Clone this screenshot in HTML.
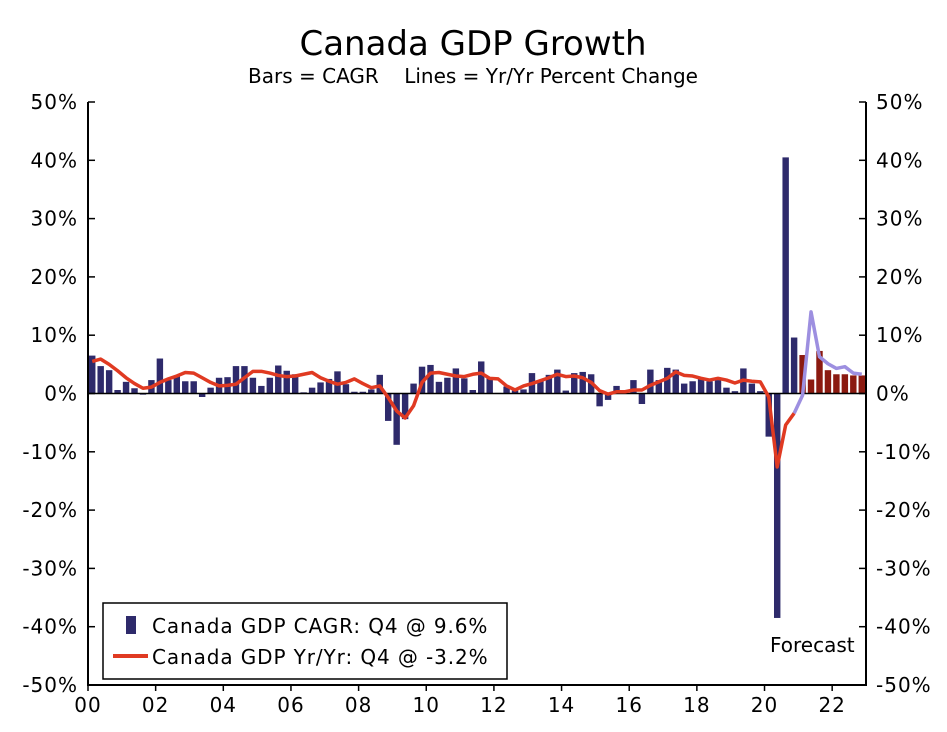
<!DOCTYPE html>
<html><head><meta charset="utf-8"><style>
body{margin:0;background:#fff;}
svg text{font-family:"DejaVu Sans","Liberation Sans",sans-serif;fill:#000;}
</style></head><body>
<svg width="947" height="727" xmlns="http://www.w3.org/2000/svg">
<rect x="0" y="0" width="947" height="727" fill="#fff"/>
<text x="473" y="55" text-anchor="middle" font-size="34">Canada GDP Growth</text>
<text x="473" y="83" text-anchor="middle" font-size="20" style="white-space:pre">Bars = CAGR    Lines = Yr/Yr Percent Change</text>
<g id="plot"></g>
<g id="legend">
<rect x="103" y="603" width="404" height="76" fill="#fff" stroke="#000" stroke-width="1.5"/>
<rect x="126" y="616" width="10" height="18" fill="#2e2a6b"/>
<text x="152" y="633" font-size="20" letter-spacing="0.9">Canada GDP CAGR: Q4 @ 9.6%</text>
<line x1="113" y1="656" x2="148" y2="656" stroke="#e03a22" stroke-width="4"/>
<text x="152" y="664" font-size="20" letter-spacing="0.9">Canada GDP Yr/Yr: Q4 @ -3.2%</text>
</g>
<text x="770" y="652" font-size="20">Forecast</text>
</svg>
<script>
const cagr=[6.5,4.7,4.0,0.6,2.0,0.9,-0.2,2.3,6.0,2.3,3.0,2.1,2.1,-0.6,1.0,2.7,2.8,4.7,4.7,2.7,1.3,2.7,4.8,3.9,3.3,0.2,1.0,1.9,2.5,3.8,1.6,0.3,0.3,0.7,3.2,-4.7,-8.8,-4.4,1.7,4.6,4.9,2.0,2.7,4.3,2.6,0.6,5.5,2.7,0.1,1.2,0.5,0.7,3.5,2.2,3.2,4.1,0.5,3.5,3.7,3.3,-2.2,-1.1,1.3,0.2,2.3,-1.8,4.1,2.3,4.4,4.1,1.7,2.1,2.5,2.1,2.3,1.0,0.4,4.3,1.7,0.4,-7.4,-38.5,40.5,9.6,6.6,2.4,7.3,4.0,3.3,3.3,3.1,3.1];
const yoy=[5.5,5.9,5.0,3.9,2.7,1.7,0.9,1.1,1.9,2.5,3.0,3.6,3.5,2.7,1.9,1.3,1.4,1.6,2.7,3.8,3.8,3.5,3.1,2.9,3.0,3.3,3.6,2.7,2.1,1.6,1.9,2.5,1.7,1.0,1.3,-0.7,-3.0,-4.2,-2.1,1.9,3.5,3.6,3.3,3.0,2.9,3.3,3.5,2.6,2.5,1.3,0.6,1.3,1.7,2.2,2.7,3.3,2.9,3.0,2.7,1.9,0.5,-0.1,0.3,0.3,0.6,0.6,1.4,2.0,2.6,3.7,3.1,3.0,2.6,2.3,2.6,2.3,1.8,2.3,2.1,2.0,-0.6,-12.6,-5.4,-3.4,-0.3,14.0,6.3,5.1,4.3,4.6,3.5,3.3];
const forecastStart=84;
const yTicks=[50,40,30,20,10,0,-10,-20,-30,-40,-50];
const xTickLabels=["00","02","04","06","08","10","12","14","16","18","20","22"];
const L=88,R=866,T=102,B=685;
const n=cagr.length, qw=(R-L)/n;
const y=v=>T+(50-v)/100*(B-T);
const xc=i=>L+qw*(i+0.5);
const NS="http://www.w3.org/2000/svg";
const g=document.getElementById('plot');
function mk(t,a){const e=document.createElementNS(NS,t);for(const k in a)e.setAttribute(k,a[k]);g.appendChild(e);return e;}
cagr.forEach((v,i)=>{
 const r=mk('rect',{x:xc(i)-qw*0.38,width:qw*0.76,y:Math.min(y(v),y(0)),height:Math.abs(y(v)-y(0)),fill:i>=forecastStart?'#8b1a10':'#2e2a6b'});
 
 
});
const z=mk('line',{x1:L,x2:R,y1:y(0),y2:y(0),stroke:'#000','stroke-width':1.5});


let p1='',p2='';
yoy.forEach((v,i)=>{
 if(i<forecastStart) p1+=(p1?'L':'M')+xc(i)+','+y(v);
 if(i>=forecastStart-1) p2+=(p2?'L':'M')+xc(i)+','+y(v);
});
const l2=mk('path',{d:p2,fill:'none',stroke:'#9d8fe0','stroke-width':3.5,'stroke-linejoin':'round'});


const l1=mk('path',{d:p1,fill:'none',stroke:'#e03a22','stroke-width':3.5,'stroke-linejoin':'round'});


const fr=mk('path',{d:`M${L},${T}L${L},${B}L${R},${B}L${R},${T}`,fill:'none',stroke:'#000','stroke-width':2});


yTicks.forEach(v=>{
 const t1=mk('line',{x1:L,x2:L+7,y1:y(v),y2:y(v),stroke:'#000','stroke-width':1.5});
 
 
 const t2=mk('line',{x1:R-7,x2:R,y1:y(v),y2:y(v),stroke:'#000','stroke-width':1.5});
 
 
 const a=mk('text',{x:L-10,y:y(v)+7,'text-anchor':'end','font-size':20,'letter-spacing':1});a.textContent=v+'%';
 
 
 const b=mk('text',{x:R+10,y:y(v)+7,'font-size':20,'letter-spacing':1});b.textContent=v+'%';
 
 
});
xTickLabels.forEach((s,k)=>{
 const xx=L+qw*8*k;
 const t=mk('line',{x1:xx,x2:xx,y1:B,y2:B+6,stroke:'#000','stroke-width':1.5});
 
 
 const a=mk('text',{x:xx,y:B+27,'text-anchor':'middle','font-size':20,'letter-spacing':1});a.textContent=s;
 
 
});
</script>
</body></html>
